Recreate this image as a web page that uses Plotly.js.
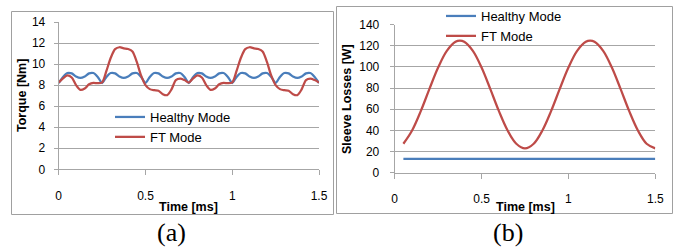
<!DOCTYPE html>
<html>
<head>
<meta charset="utf-8">
<script src="https://cdn.plot.ly/plotly-3.0.1.min.js"></script>
<style>html,body{margin:0;padding:0;background:#fff;}#chart{width:673px;height:248px;}</style>
</head>
<body>
<div id="chart"></div>
<script>
// ---- Data: chart (a) Torque ----
const timeA = [0,0.025,0.05,0.075,0.1,0.125,0.15,0.175,0.2,0.225,
  0.25,0.275,0.3,0.325,0.35,0.375,0.4,0.425,0.45,0.475,
  0.5,0.525,0.55,0.575,0.6,0.625,0.65,0.675,0.7,0.725,
  0.75,0.775,0.8,0.825,0.85,0.875,0.9,0.925,0.95,0.975,
  1.0,1.025,1.05,1.075,1.1,1.125,1.15,1.175,1.2,1.225,
  1.25,1.275,1.3,1.325,1.35,1.375,1.4,1.425,1.45,1.475,1.5];
const healthyTorque = [8.2,8.78,9.15,9.12,8.82,8.68,8.82,9.12,9.15,8.78,
  8.2,8.78,9.15,9.12,8.82,8.68,8.82,9.12,9.15,8.78,
  8.2,8.78,9.15,9.12,8.82,8.68,8.82,9.12,9.15,8.78,
  8.2,8.78,9.15,9.12,8.82,8.68,8.82,9.12,9.15,8.78,
  8.2,8.78,9.15,9.12,8.82,8.68,8.82,9.12,9.15,8.78,
  8.2,8.78,9.15,9.12,8.82,8.68,8.82,9.12,9.15,8.78,8.2];
const ftTorque = [8.25,8.65,8.92,8.72,8.0,7.55,7.68,8.08,8.22,8.18,
  8.25,9.35,10.6,11.42,11.6,11.5,11.43,11.2,10.2,8.9,
  8.0,7.62,7.52,7.47,7.14,7.05,7.6,8.48,8.62,8.48,
  8.25,8.65,8.92,8.72,8.0,7.55,7.68,8.08,8.22,8.18,
  8.25,9.35,10.6,11.42,11.6,11.5,11.43,11.2,10.2,8.9,
  8.0,7.62,7.52,7.47,7.14,7.05,7.6,8.48,8.62,8.48,8.25];

// ---- Data: chart (b) Sleeve losses ----
const timeB = [0.05,0.1,0.15,0.2,0.25,0.3,0.35,0.375,0.4,0.45,0.5,0.55,0.6,0.65,0.7,0.75,
  0.8,0.85,0.9,0.95,1.0,1.05,1.1,1.125,1.15,1.2,1.25,1.3,1.35,1.4,1.45,1.5];
const ftLosses = [27.4,39.9,58.2,79.3,99.5,115.3,123.9,125,123.9,115.3,99.5,79.3,58.2,39.9,27.4,23,
  27.4,39.9,58.2,79.3,99.5,115.3,123.9,125,123.9,115.3,99.5,79.3,58.2,39.9,27.4,23];
const healthyTime = [0.05,1.5];
const healthyLosses = [13,13];

const xTicks = [0,0.5,1,1.5];
const xTickText = ['0','0.5','1','1.5'];
const yTicksA = [0,2,4,6,8,10,12,14];
const yTicksB = [0,20,40,60,80,100,120,140];

const seriesNames = ['Healthy Mode','FT Mode'];
const colors = ['#4a7ebb','#be4b48'];

// ---- Layout helpers (pixel -> paper) ----
const W = 673, H = 248;
const px = x => x / W;
const py = y => 1 - y / H;

const tickFont = {family:'Liberation Sans, Arial, sans-serif', size:12, color:'#000'};
const titleFont = {family:'Liberation Sans, Arial, sans-serif', size:12.5, color:'#000', weight:'bold'};
const grid = '#a6a6a6';

const traces = [
  {x: timeA, y: healthyTorque, name: seriesNames[0], type:'scatter', mode:'lines',
   line:{color:colors[0], width:2.25, shape:'spline', smoothing:0.6}, xaxis:'x', yaxis:'y', legend:'legend'},
  {x: timeA, y: ftTorque, name: seriesNames[1], type:'scatter', mode:'lines',
   line:{color:colors[1], width:2.25, shape:'spline', smoothing:0.8}, xaxis:'x', yaxis:'y', legend:'legend'},
  {x: healthyTime, y: healthyLosses, name: seriesNames[0], type:'scatter', mode:'lines',
   line:{color:colors[0], width:2.25}, xaxis:'x2', yaxis:'y2', legend:'legend2'},
  {x: timeB, y: ftLosses, name: seriesNames[1], type:'scatter', mode:'lines',
   line:{color:colors[1], width:2.25, shape:'spline', smoothing:1}, xaxis:'x2', yaxis:'y2', legend:'legend2'}
];

function xAxis(dom, anchor){
  return {domain: dom, anchor: anchor, range:[0,1.5], tickvals: xTicks, ticktext: xTickText,
    showgrid:false, zeroline:false, showline:true, linecolor:grid, linewidth:1,
    ticks:'outside', ticklen:5, tickcolor:grid, tickfont: tickFont, ticklabelstandoff: 10, fixedrange:true};
}
function yAxis(dom, anchor, rng, tv, standoff){
  return {domain: dom, anchor: anchor, range: rng, tickvals: tv,
    showgrid:true, gridcolor:grid, gridwidth:1, zeroline:false, showline:true, linecolor:grid, linewidth:1,
    ticks:'outside', ticklen:4, tickcolor:grid, tickfont: tickFont, ticklabelstandoff: standoff, fixedrange:true};
}

const legendBase = {bgcolor:'rgba(0,0,0,0)', borderwidth:0, font:{family:'Liberation Sans, Arial, sans-serif', size:13, color:'#000'},
  itemwidth:30, tracegroupgap:0, traceorder:'normal', xanchor:'left', yanchor:'top'};

const layout = {
  width: W, height: H,
  margin:{l:0,r:0,t:0,b:0},
  paper_bgcolor:'#fff', plot_bgcolor:'rgba(0,0,0,0)',
  showlegend:true,
  xaxis: xAxis([px(58.7), px(319)], 'y'),
  yaxis: yAxis([py(169.3), py(22)], 'x', [0,14], yTicksA, 6),
  xaxis2: xAxis([px(394.7), px(655.3)], 'y2'),
  yaxis2: yAxis([py(172.7), py(24.7)], 'x2', [0,140], yTicksB, 8),
  legend: Object.assign({}, legendBase, {x: px(110), y: py(102)}),
  legend2: Object.assign({}, legendBase, {x: px(441), y: py(1)}),
  shapes: [
    {type:'rect', xref:'paper', yref:'paper', x0:px(11.5), x1:px(333.5), y0:py(214.5), y1:py(11.5),
     line:{color:'#a0a0a0', width:1}},
    {type:'rect', xref:'paper', yref:'paper', x0:px(336.5), x1:px(672.5), y0:py(213.5), y1:py(6.5),
     line:{color:'#a0a0a0', width:1}}
  ],
  annotations: [
    {text:'Time [ms]', xref:'paper', yref:'paper', x:px(188.5), y:py(206.5), xanchor:'center', yanchor:'middle', showarrow:false, font:titleFont},
    {text:'Time [ms]', xref:'paper', yref:'paper', x:px(525), y:py(206.5), xanchor:'center', yanchor:'middle', showarrow:false, font:titleFont},
    {text:'Torque [Nm]', xref:'paper', yref:'paper', x:px(22), y:py(96), xanchor:'center', yanchor:'middle', textangle:-90, showarrow:false, font:titleFont},
    {text:'Sleeve Losses [W]', xref:'paper', yref:'paper', x:px(347), y:py(99), xanchor:'center', yanchor:'middle', textangle:-90, showarrow:false, font:titleFont},
    {text:'(a)', xref:'paper', yref:'paper', x:px(171), y:py(232), xanchor:'center', yanchor:'middle', showarrow:false,
     font:{family:'Liberation Serif, Times New Roman, serif', size:26, color:'#000'}},
    {text:'(b)', xref:'paper', yref:'paper', x:px(508), y:py(232), xanchor:'center', yanchor:'middle', showarrow:false,
     font:{family:'Liberation Serif, Times New Roman, serif', size:26, color:'#000'}}
  ]
};

Plotly.newPlot('chart', traces, layout, {displayModeBar:false, staticPlot:true});
</script>
</body>
</html>
